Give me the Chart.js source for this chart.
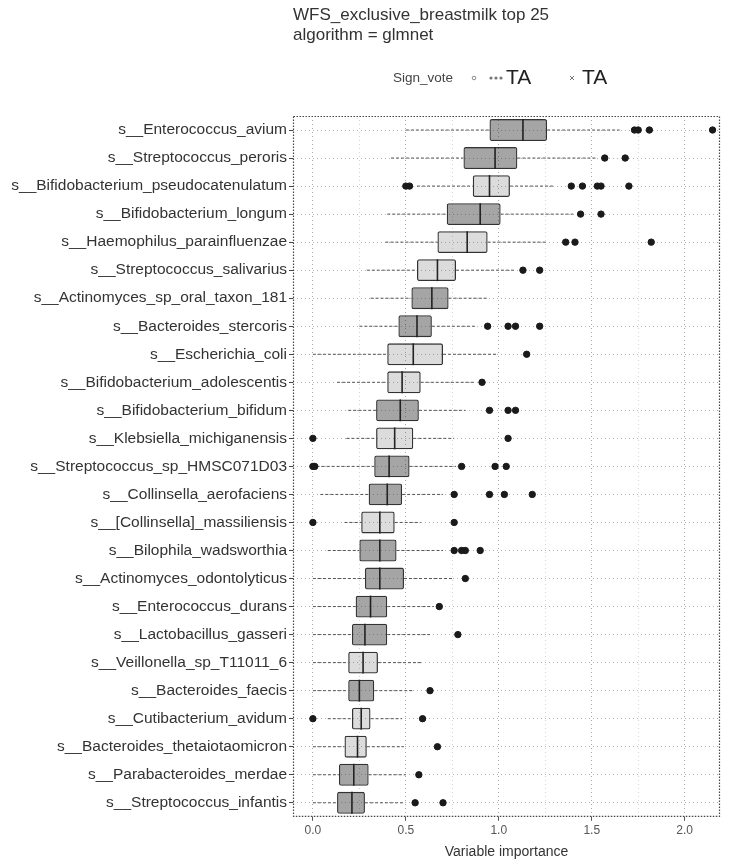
<!DOCTYPE html>
<html>
<head>
<meta charset="utf-8">
<script src="https://cdn.jsdelivr.net/npm/chart.js@4.4.1/dist/chart.umd.min.js"></script>
<style>
  html, body { margin: 0; padding: 0; background: #fff; }
  #wrap { width: 741px; height: 867px; position: relative; }
</style>
</head>
<body>
<div id="wrap"><canvas id="chart"></canvas></div>
<script>
// Species, top to bottom
const species = [
  's__Enterococcus_avium',
  's__Streptococcus_peroris',
  's__Bifidobacterium_pseudocatenulatum',
  's__Bifidobacterium_longum',
  's__Haemophilus_parainfluenzae',
  's__Streptococcus_salivarius',
  's__Actinomyces_sp_oral_taxon_181',
  's__Bacteroides_stercoris',
  's__Escherichia_coli',
  's__Bifidobacterium_adolescentis',
  's__Bifidobacterium_bifidum',
  's__Klebsiella_michiganensis',
  's__Streptococcus_sp_HMSC071D03',
  's__Collinsella_aerofaciens',
  's__[Collinsella]_massiliensis',
  's__Bilophila_wadsworthia',
  's__Actinomyces_odontolyticus',
  's__Enterococcus_durans',
  's__Lactobacillus_gasseri',
  's__Veillonella_sp_T11011_6',
  's__Bacteroides_faecis',
  's__Cutibacterium_avidum',
  's__Bacteroides_thetaiotaomicron',
  's__Parabacteroides_merdae',
  's__Streptococcus_infantis'
];

// Box statistics (variable importance)
const whiskerLow  = [0.50, 0.42, 0.56, 0.40, 0.39, 0.29, 0.31, 0.25, 0.00, 0.13, 0.19, 0.18, 0.02, 0.04, 0.17, 0.08, 0.00, 0.00, 0.00, 0.00, 0.00, 0.08, 0.00, 0.00, 0.00];
const q1          = [0.95, 0.81, 0.86, 0.72, 0.67, 0.56, 0.53, 0.46, 0.40, 0.40, 0.34, 0.34, 0.33, 0.30, 0.26, 0.25, 0.28, 0.23, 0.21, 0.19, 0.19, 0.21, 0.17, 0.14, 0.13];
const median      = [1.13, 0.98, 0.95, 0.90, 0.83, 0.67, 0.64, 0.56, 0.54, 0.48, 0.47, 0.44, 0.41, 0.40, 0.36, 0.36, 0.36, 0.31, 0.28, 0.27, 0.25, 0.26, 0.24, 0.22, 0.21];
const q3          = [1.26, 1.10, 1.06, 1.01, 0.94, 0.77, 0.73, 0.64, 0.70, 0.58, 0.57, 0.54, 0.52, 0.48, 0.44, 0.45, 0.49, 0.40, 0.40, 0.35, 0.33, 0.31, 0.29, 0.30, 0.28];
const whiskerHigh = [1.65, 1.53, 1.30, 1.40, 1.26, 1.08, 0.94, 0.88, 0.99, 0.87, 0.82, 0.76, 0.77, 0.70, 0.58, 0.70, 0.75, 0.65, 0.63, 0.59, 0.54, 0.48, 0.49, 0.50, 0.49];
const outliers = [
  [1.73, 1.75, 1.81, 2.15],
  [1.57, 1.68],
  [0.50, 0.52, 1.39, 1.45, 1.53, 1.55, 1.70],
  [1.44, 1.55],
  [1.36, 1.41, 1.82],
  [1.13, 1.22],
  [],
  [0.94, 1.05, 1.09, 1.22],
  [1.15],
  [0.91],
  [0.95, 1.05, 1.09],
  [0.00, 1.05],
  [0.00, 0.01, 0.80, 0.98, 1.04],
  [0.76, 0.95, 1.03, 1.18],
  [0.00, 0.76],
  [0.76, 0.80, 0.82, 0.90],
  [0.82],
  [0.68],
  [0.78],
  [],
  [0.63],
  [0.00, 0.59],
  [0.67],
  [0.57],
  [0.55, 0.70]
];
// Sign vote group per species (0 = dense points, 1 = sparse points)
const signVote = [0, 0, 1, 0, 1, 1, 0, 0, 1, 1, 0, 1, 0, 0, 1, 0, 0, 0, 0, 1, 0, 1, 1, 0, 0];

// Axis ticks
const tickValues = [0, 0.25, 0.5, 0.75, 1, 1.25, 1.5, 1.75, 2];
const majorTicks = [0, 0.5, 1, 1.5, 2];

const titleLines = ['WFS_exclusive_breastmilk top 25', 'algorithm = glmnet'];
const legendTitle = 'Sign_vote';
const legendLabels = ['TA', 'TA'];

const FONT = '"Liberation Sans", Arial, sans-serif';

const outlierPoints = [];
outliers.forEach((list, i) => {
  list.forEach(v => outlierPoints.push({ x: v, y: species[i] }));
});

// Whiskers behind the boxes, medians on top
const boxPlugin = {
  id: 'boxParts',
  beforeDatasetsDraw(chart) {
    const { ctx, scales: { x, y } } = chart;
    ctx.save();
    ctx.strokeStyle = '#555';
    ctx.lineWidth = 1;
    ctx.setLineDash([3, 2]);
    species.forEach((s, i) => {
      const py = y.getPixelForValue(i);
      ctx.beginPath();
      ctx.moveTo(x.getPixelForValue(whiskerLow[i]), py);
      ctx.lineTo(x.getPixelForValue(q1[i]), py);
      ctx.moveTo(x.getPixelForValue(q3[i]), py);
      ctx.lineTo(x.getPixelForValue(whiskerHigh[i]), py);
      ctx.stroke();
    });
    ctx.restore();
  },
  afterDatasetsDraw(chart) {
    const { ctx, scales: { x, y } } = chart;
    const meta = chart.getDatasetMeta(0);
    ctx.save();
    ctx.strokeStyle = '#222';
    ctx.lineWidth = 1.6;
    species.forEach((s, i) => {
      const bar = meta.data[i];
      const half = bar.height / 2;
      const px = x.getPixelForValue(median[i]);
      const py = y.getPixelForValue(i);
      ctx.beginPath();
      ctx.moveTo(px, py - half);
      ctx.lineTo(px, py + half);
      ctx.stroke();
    });
    // dotted panel border
    const a = chart.chartArea;
    ctx.strokeStyle = '#444';
    ctx.lineWidth = 1.2;
    ctx.setLineDash([1.5, 1.5]);
    ctx.strokeRect(a.left + 0.5, a.top + 0.5, a.right - a.left - 1, a.bottom - a.top - 1);
    ctx.restore();
  }
};

// Title and legend drawn above the panel
const headerPlugin = {
  id: 'header',
  afterDraw(chart) {
    const { ctx, chartArea } = chart;
    ctx.save();
    ctx.fillStyle = '#333';
    ctx.textBaseline = 'middle';
    ctx.font = '17px ' + FONT;
    ctx.fillText(titleLines[0], chartArea.left, 15);
    ctx.fillText(titleLines[1], chartArea.left, 35);

    ctx.font = '13.5px ' + FONT;
    ctx.fillStyle = '#444';
    ctx.fillText(legendTitle, 393, 78);

    // key 1: small circles
    ctx.strokeStyle = '#888';
    ctx.lineWidth = 1;
    ctx.beginPath();
    ctx.arc(474, 78, 1.8, 0, Math.PI * 2);
    ctx.stroke();
    ctx.fillStyle = '#777';
    [491, 496, 501].forEach(cx => {
      ctx.beginPath();
      ctx.arc(cx, 78, 1.6, 0, Math.PI * 2);
      ctx.fill();
    });
    ctx.fillStyle = '#222';
    ctx.font = '21px ' + FONT;
    ctx.fillText(legendLabels[0], 506, 78);

    // key 2: cross
    ctx.strokeStyle = '#777';
    ctx.beginPath();
    ctx.moveTo(570, 76); ctx.lineTo(574, 80);
    ctx.moveTo(574, 76); ctx.lineTo(570, 80);
    ctx.stroke();
    ctx.fillText(legendLabels[1], 582, 78);
    ctx.restore();
  }
};

new Chart(document.getElementById('chart'), {
  type: 'bar',
  data: {
    labels: species,
    datasets: [
      {
        label: 'box',
        data: q1.map((v, i) => [v, q3[i]]),
        backgroundColor: signVote.map(g => g === 0 ? 'rgba(40,40,40,0.42)' : 'rgba(80,80,80,0.2)'),
        borderColor: '#333',
        borderWidth: 1.3,
        borderSkipped: false,
        borderRadius: 2,
        barPercentage: 0.78,
        categoryPercentage: 1
      },
      {
        type: 'scatter',
        label: 'outliers',
        data: outlierPoints,
        pointStyle: 'circle',
        pointRadius: 3.2,
        backgroundColor: '#1a1a1a',
        borderColor: '#1a1a1a',
        borderWidth: 1
      }
    ]
  },
  options: {
    indexAxis: 'y',
    responsive: true,
    maintainAspectRatio: false,
    animation: false,
    layout: { padding: { top: 116, right: 21, bottom: 6, left: 0 } },
    plugins: {
      legend: { display: false },
      title: { display: false },
      tooltip: { enabled: false }
    },
    scales: {
      x: {
        type: 'linear',
        min: -0.107,
        max: 2.19,
        afterBuildTicks(scale) {
          scale.ticks = tickValues.map(v => ({ value: v }));
        },
        ticks: {
          autoSkip: false,
          maxRotation: 0,
          padding: 3,
          color: '#555',
          font: { family: FONT, size: 12 },
          callback: v => majorTicks.includes(v) ? v.toFixed(1) : ''
        },
        grid: {
          color: ctx => majorTicks.includes(ctx.tick && ctx.tick.value) ? '#a8a8a8' : '#d4d4d4',
          tickColor: ctx => majorTicks.includes(ctx.tick && ctx.tick.value) ? '#555' : 'rgba(0,0,0,0)',
          tickLength: 4,
          lineWidth: 1
        },
        border: { display: false, dash: [1, 3] },
        title: {
          display: true,
          text: 'Variable importance',
          color: '#333',
          font: { family: FONT, size: 14 },
          padding: { top: 3, bottom: 0 }
        }
      },
      y: {
        type: 'category',
        afterFit(scale) { scale.width = 293; },
        ticks: {
          autoSkip: false,
          padding: 2,
          color: '#333',
          font: { family: FONT, size: 15.5 }
        },
        grid: {
          offset: false,
          color: '#b4b4b4',
          tickColor: '#444',
          tickLength: 4,
          lineWidth: 1
        },
        border: { display: false, dash: [1, 3] }
      }
    }
  },
  plugins: [boxPlugin, headerPlugin]
});
</script>
</body>
</html>
